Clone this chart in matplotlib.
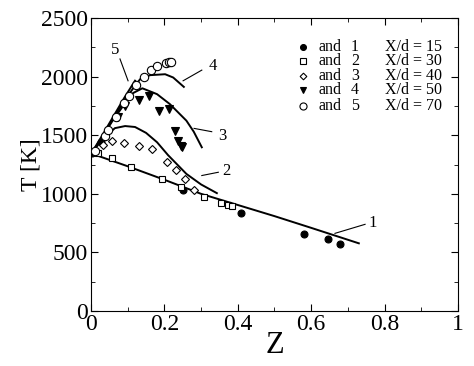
import matplotlib
matplotlib.use("Agg")
from matplotlib import pyplot as plt
from matplotlib.ticker import MultipleLocator

plt.rcParams["font.family"] = ["Liberation Serif", "DejaVu Serif"]

# measured points, X/d = 15, 30, 40, 50, 70
z1 = [0.003, 0.027, 0.25, 0.41, 0.58, 0.645, 0.68]
t1 = [1345, 1440, 1035, 839, 660, 612, 570]
z2 = [0.02, 0.058, 0.109, 0.193, 0.244, 0.308, 0.353, 0.374, 0.385]
t2 = [1349, 1303, 1232, 1128, 1057, 972, 921, 901, 893]
z3 = [0.011, 0.032, 0.058, 0.091, 0.132, 0.166, 0.208, 0.231, 0.256, 0.281]
t3 = [1369, 1420, 1448, 1431, 1411, 1383, 1270, 1205, 1128, 1035]
z4 = [0.073, 0.094, 0.132, 0.159, 0.186, 0.213, 0.229, 0.236, 0.244, 0.249]
t4 = [1652, 1746, 1802, 1836, 1709, 1723, 1539, 1454, 1411, 1398]
z5 = [0.011, 0.038, 0.047, 0.067, 0.09, 0.104, 0.123, 0.145, 0.163, 0.179, 0.204, 0.213, 0.218]
t5 = [1369, 1496, 1545, 1658, 1771, 1836, 1927, 2000, 2055, 2089, 2112, 2123, 2128]

# model curves
zc1 = [0, 0.1, 0.2, 0.3, 0.4, 0.5, 0.6, 0.73]
tc1 = [1345, 1235, 1120, 1000, 905, 810, 710, 578]
zc2 = [0, 0.02, 0.04, 0.065, 0.093, 0.12, 0.15, 0.18, 0.21, 0.26, 0.30, 0.343]
tc2 = [1340, 1420, 1490, 1560, 1578, 1570, 1520, 1440, 1330, 1170, 1080, 1006]
zc3 = [0, 0.03, 0.06, 0.09, 0.115, 0.14, 0.18, 0.215, 0.26, 0.28, 0.302]
tc3 = [1340, 1480, 1630, 1760, 1860, 1900, 1850, 1765, 1624, 1530, 1397]
zc4 = [0, 0.03, 0.06, 0.09, 0.115, 0.134, 0.161, 0.202, 0.224, 0.253]
tc4 = [1340, 1480, 1640, 1790, 1900, 1978, 2012, 2020, 1992, 1912]
zc5 = [0, 0.03, 0.06, 0.09, 0.12]
tc5 = [1340, 1495, 1655, 1815, 1965]

xd = [15, 30, 40, 50, 70]
nums = ["1", "2", "3", "4", "5"]

fig = plt.figure(figsize=(4.74, 3.66), dpi=100)
ax = fig.add_axes([0.192, 0.150, 0.774, 0.801])

for zc, tc in [(zc1, tc1), (zc2, tc2), (zc3, tc3), (zc4, tc4), (zc5, tc5)]:
    ax.plot(zc, tc, color="black", lw=1.4)

styles = [
    dict(marker="o", mfc="black", ms=5),
    dict(marker="s", mfc="white", ms=4.5),
    dict(marker="D", mfc="white", ms=4),
    dict(marker="v", mfc="black", ms=5.5),
    dict(marker="o", mfc="white", ms=6),
]
data = [(z1, t1), (z2, t2), (z3, t3), (z4, t4), (z5, t5)]
for (z, t), st in zip(data, styles):
    ax.plot(z, t, ls="none", mec="black", mew=0.8, zorder=3, **st)

# curve labels with leader lines
leaders = [
    ((0.665, 663), (0.747, 740), (0.768, 750)),
    ((0.302, 1156), (0.347, 1184), (0.37, 1193)),
    ((0.281, 1558), (0.329, 1530), (0.359, 1496)),
    ((0.251, 1964), (0.302, 2055), (0.332, 2090)),
    ((0.101, 1964), (0.079, 2150), (0.065, 2230)),
]
for (a, b, c), n in zip(leaders, nums):
    ax.plot([a[0], b[0]], [a[1], b[1]], color="black", lw=0.8)
    ax.text(c[0], c[1], n, fontsize=12, ha="center", va="center")

# legend block
rows = [0.902, 0.853, 0.802, 0.754, 0.700]
for y, st, n, x in zip(rows, styles, nums, xd):
    ax.plot([0.578], [y], transform=ax.transAxes, ls="none", mec="black",
            mew=0.8, **{**st, "ms": st["ms"] * 0.85})
    ax.text(0.619, y, "and", transform=ax.transAxes, fontsize=11.5, va="center")
    ax.text(0.708, y, n, transform=ax.transAxes, fontsize=11.5, va="center")
    ax.text(0.801, y, "X/d = %d" % x, transform=ax.transAxes, fontsize=11.5, va="center")

ax.set_xlim(0, 1)
ax.set_ylim(0, 2500)
ax.xaxis.set_major_locator(MultipleLocator(0.2))
ax.xaxis.set_minor_locator(MultipleLocator(0.1))
ax.yaxis.set_major_locator(MultipleLocator(500))
ax.yaxis.set_minor_locator(MultipleLocator(250))
ax.set_xticks([0, 0.2, 0.4, 0.6, 0.8, 1])
ax.set_xticklabels(["0", "0.2", "0.4", "0.6", "0.8", "1"])
ax.tick_params(which="both", direction="in", top=True, right=True, labelsize=17, pad=2)
ax.tick_params(which="major", length=5)
ax.tick_params(which="minor", length=3)
ax.set_xlabel("Z", fontsize=22, labelpad=-3)
ax.set_ylabel("T [K]", fontsize=17, labelpad=0)

fig.savefig("out.png", dpi=100)
